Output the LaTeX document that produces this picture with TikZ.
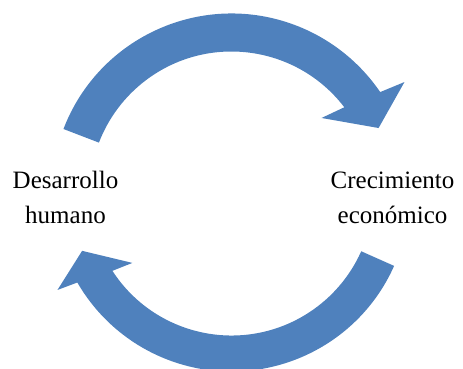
\documentclass[tikz,border=0pt]{standalone}
\usepackage{fontspec}
\setmainfont{Liberation Serif}
\tikzset{
  cyclearrow/.style={fill={rgb,255:red,79;green,129;blue,189}, draw=none},
  labeltext/.style={font=\fontsize{25}{35}\selectfont, align=center, anchor=base, inner sep=0pt}
}
\begin{document}
\begin{tikzpicture}
\useasboundingbox (0pt,0pt) rectangle (463pt,-368pt);
\coordinate (C) at (231.5pt,-193.5pt);
\begin{scope}[shift={(C)}]
  % top arrow (left -> right)
  \path[cyclearrow] (159:180pt) arc[start angle=159,end angle=34.3,radius=180pt]
    -- (32.8:205.8pt) -- (24:161pt) -- (40:117.5pt) -- (37.4:142pt)
    arc[start angle=37.4,end angle=159,radius=142pt] -- cycle;
  % bottom arrow (right -> left)
  \path[cyclearrow] (-24:178pt) arc[start angle=-24,end angle=-150,radius=178pt]
    -- (-151:199pt) -- (-159:160pt) -- (-145:121pt) -- (-147:142pt)
    arc[start angle=-147,end angle=-24,radius=142pt] -- cycle;
\end{scope}
\node[labeltext] (dh) at (65.5pt,-223pt) {Desarrollo\\humano};
\node[labeltext] (ce) at (392.5pt,-223pt) {Crecimiento\\económico};
\end{tikzpicture}
\end{document}
